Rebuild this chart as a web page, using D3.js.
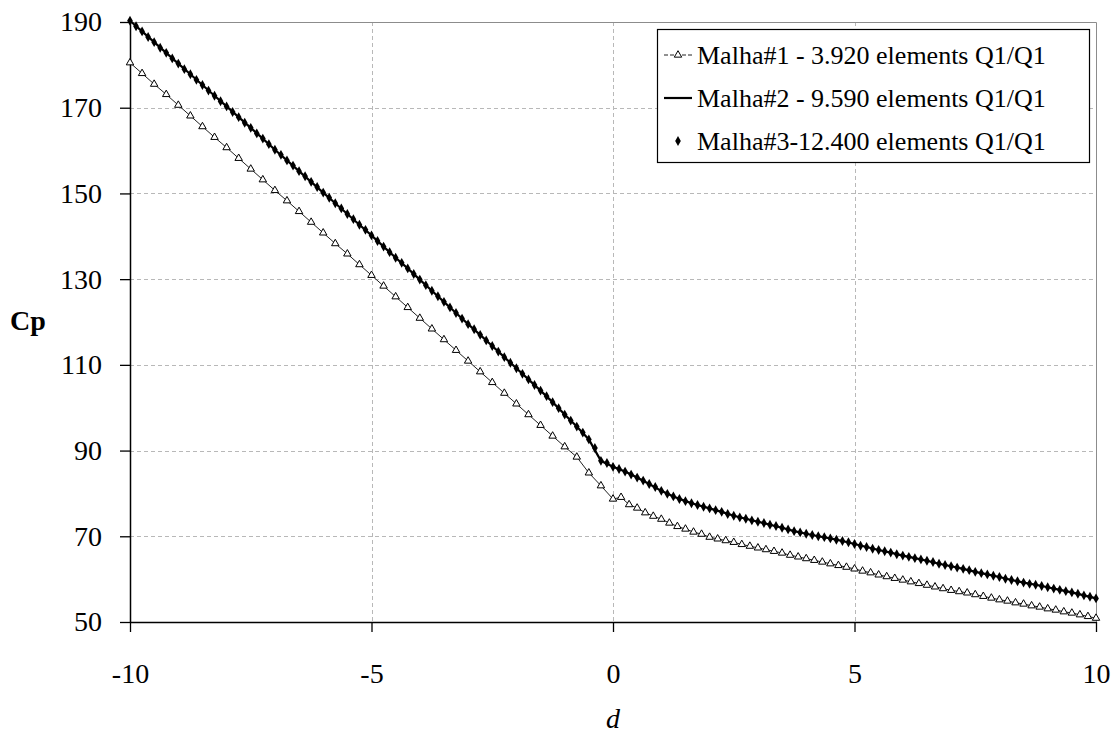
<!DOCTYPE html>
<html>
<head>
<meta charset="utf-8">
<script src="https://cdn.jsdelivr.net/npm/d3@7"></script>
<style>
  body { margin: 0; background: #fff; }
  svg { display: block; }
</style>
</head>
<body>
<svg id="chart" width="1113" height="740"></svg>
<script>
// Pressure coefficient Cp along d for three mesh refinements

const xTicks = [-10, -5, 0, 5, 10];
const yTicks = [50, 70, 90, 110, 130, 150, 170, 190];

const legendLabels = [
  "Malha#1 - 3.920 elements Q1/Q1",
  "Malha#2 - 9.590 elements Q1/Q1",
  "Malha#3-12.400 elements Q1/Q1"
];

// Malha#1: nodes every 0.25 for d in [-10, 0)
const m1LeftY = [
  180.5, 178.0, 175.5, 173.1, 170.6, 168.1, 165.6, 163.1, 160.7, 158.2,
  155.7, 153.2, 150.7, 148.3, 145.8, 143.3, 140.8, 138.3, 135.9, 133.4,
  130.9, 128.4, 125.9, 123.4, 120.9, 118.4, 115.9, 113.4, 110.9, 108.4,
  105.9, 103.4, 100.9, 98.4, 95.9, 93.4, 90.9, 88.5, 84.8, 81.8
];
// Malha#1: nodes every 1/6 for d in [0, 10]
const m1RightY = [
  78.7, 79.1, 77.4, 76.6, 75.5, 74.7, 74.0, 73.1, 72.3, 71.7,
  71.0, 70.5, 69.8, 69.4, 69.0, 68.6, 68.1, 67.7, 67.3, 66.9,
  66.5, 66.1, 65.6, 65.2, 64.8, 64.4, 64.0, 63.6, 63.2, 62.8,
  62.4, 61.9, 61.5, 61.0, 60.6, 60.2, 59.8, 59.4, 59.0, 58.6,
  58.2, 57.8, 57.4, 57.1, 56.8, 56.4, 56.0, 55.6, 55.2, 54.9,
  54.5, 54.2, 53.8, 53.5, 53.1, 52.8, 52.4, 52.1, 51.7, 51.3,
  50.9
];

// Malha#2: nodes every 0.25 for d in [-10, 10]
const m2Y = [
  190.3, 187.8, 185.3, 182.8, 180.3, 177.8, 175.3, 172.8, 170.3, 167.8,
  165.3, 162.8, 160.2, 157.7, 155.2, 152.7, 150.2, 147.7, 145.2, 142.7,
  140.2, 137.6, 135.0, 132.5, 129.9, 127.3, 124.7, 122.1, 119.5, 117.0,
  114.4, 111.8, 109.2, 106.6, 104.0, 101.3, 98.4, 95.6, 92.6, 87.6,
  86.2, 85.1, 83.7, 82.2, 80.6, 79.3, 78.2, 77.3, 76.5, 75.7,
  74.8, 74.1, 73.4, 72.7, 72.0, 71.2, 70.6, 70.0, 69.5, 68.9,
  68.2, 67.5, 66.8, 66.2, 65.5, 64.9, 64.3, 63.6, 63.0, 62.4,
  61.7, 61.1, 60.5, 59.8, 59.2, 58.7, 58.1, 57.5, 56.9, 56.2,
  55.5
];

// Malha#3: nodes every 0.125 for d in [-10, 0)
const m3LeftY = [
  190.3, 189.0, 187.8, 186.5, 185.3, 184.0, 182.8, 181.5, 180.3, 179.0,
  177.8, 176.5, 175.3, 174.0, 172.8, 171.5, 170.3, 169.0, 167.8, 166.5,
  165.3, 164.0, 162.8, 161.5, 160.2, 159.0, 157.7, 156.5, 155.2, 154.0,
  152.7, 151.5, 150.2, 149.0, 147.7, 146.5, 145.2, 144.0, 142.7, 141.5,
  140.2, 138.9, 137.6, 136.3, 135.0, 133.8, 132.5, 131.2, 129.9, 128.6,
  127.3, 126.0, 124.7, 123.4, 122.1, 120.8, 119.5, 118.3, 117.0, 115.7,
  114.4, 113.1, 111.8, 110.5, 109.2, 107.9, 106.6, 105.3, 104.0, 102.7,
  101.3, 99.9, 98.4, 97.0, 95.6, 94.2, 92.6, 90.6, 87.6, 87.1
];
// Malha#3: nodes every 0.125 for d in [0, 10]
const m3RightY = [
  86.2, 85.7, 85.1, 84.4, 83.7, 83.0, 82.2, 81.5, 80.6, 79.9,
  79.3, 78.7, 78.2, 77.7, 77.3, 76.9, 76.5, 76.1, 75.7, 75.2,
  74.8, 74.4, 74.1, 73.7, 73.4, 73.1, 72.7, 72.4, 72.0, 71.6,
  71.2, 70.9, 70.6, 70.3, 70.0, 69.8, 69.5, 69.2, 68.9, 68.6,
  68.2, 67.8, 67.5, 67.1, 66.8, 66.5, 66.2, 65.8, 65.5, 65.2,
  64.9, 64.6, 64.3, 64.0, 63.6, 63.3, 63.0, 62.7, 62.4, 62.1,
  61.7, 61.4, 61.1, 60.8, 60.5, 60.1, 59.8, 59.5, 59.2, 58.9,
  58.7, 58.4, 58.1, 57.8, 57.5, 57.2, 56.9, 56.6, 56.2, 55.9,
  55.5
];

// Pair each value with its node position
const malha1 = m1LeftY.map((v, i) => [-10 + 0.25 * i, v])
  .concat(m1RightY.map((v, k) => [k / 6, v]));
const malha2 = m2Y.map((v, i) => [-10 + 0.25 * i, v]);
const malha3 = m3LeftY.map((v, i) => [-10 + 0.125 * i, v])
  .concat(m3RightY.map((v, k) => [0.125 * k, v]));

const SERIF = "'Liberation Serif', 'Times New Roman', 'DejaVu Serif', serif";

const svg = d3.select("#chart");
const plot = { left: 130, right: 1096, top: 22, bottom: 622 };

const x = d3.scaleLinear().domain([-10, 10]).range([plot.left, plot.right]);
const y = d3.scaleLinear().domain([50, 190]).range([plot.bottom, plot.top]);

// Dashed grid
const grid = svg.append("g").attr("stroke", "#b8b8b8").attr("stroke-width", 1)
  .attr("stroke-dasharray", "4,3");
grid.selectAll("line.v").data(xTicks.slice(1, -1)).join("line")
  .attr("x1", d => Math.round(x(d)) + 0.5).attr("x2", d => Math.round(x(d)) + 0.5)
  .attr("y1", plot.top).attr("y2", plot.bottom);
grid.selectAll("line.h").data(yTicks.slice(1, -1)).join("line")
  .attr("x1", plot.left).attr("x2", plot.right)
  .attr("y1", d => Math.round(y(d)) + 0.5).attr("y2", d => Math.round(y(d)) + 0.5);

// Plot frame (top and right)
svg.append("path")
  .attr("d", `M${plot.left},${plot.top + 0.5}H${plot.right + 0.5}V${plot.bottom}`)
  .attr("fill", "none").attr("stroke", "#8c8c8c").attr("stroke-width", 1);

// Axes
const yAxis = svg.append("g").attr("transform", `translate(${plot.left},0)`)
  .call(d3.axisLeft(y).tickValues(yTicks).tickSize(10).tickSizeOuter(0)
    .tickPadding(18).tickFormat(d => String(d)));
const xAxis = svg.append("g").attr("transform", `translate(0,${plot.bottom})`)
  .call(d3.axisBottom(x).tickValues(xTicks).tickSize(10).tickSizeOuter(0)
    .tickPadding(31).tickFormat(d => String(d)));
[yAxis, xAxis].forEach(g => {
  g.attr("font-size", null).attr("font-family", null);
  g.selectAll("text")
    .style("font-family", SERIF).style("font-size", "28px").attr("fill", "#000");
  g.selectAll("line").attr("stroke", "#000").attr("stroke-width", 1.3);
  g.select(".domain").attr("stroke", "#000").attr("stroke-width", 1.5);
});

// Axis titles
svg.append("text").attr("x", 10).attr("y", 330)
  .style("font-family", SERIF).style("font-size", "28px").style("font-weight", "bold")
  .text("Cp");
svg.append("text").attr("x", x(0)).attr("y", 728).attr("text-anchor", "middle")
  .style("font-family", SERIF).style("font-size", "28px").style("font-style", "italic")
  .text("d");

const line = d3.line().x(d => x(d[0])).y(d => y(d[1]));
const triangle = d3.symbol(d3.symbolTriangle, 24);
const diamond = d3.symbol(d3.symbolDiamond, 28);

// Malha#1: thin line with open triangles
svg.append("path").datum(malha1).attr("d", line)
  .attr("fill", "none").attr("stroke", "#222").attr("stroke-width", 1);
svg.append("g").selectAll("path").data(malha1).join("path")
  .attr("d", triangle)
  .attr("transform", d => `translate(${x(d[0])},${y(d[1])})`)
  .attr("fill", "#fff").attr("stroke", "#000").attr("stroke-width", 1);

// Malha#2: solid thick line
svg.append("path").datum(malha2).attr("d", line)
  .attr("fill", "none").attr("stroke", "#000").attr("stroke-width", 2.2);

// Malha#3: filled diamonds
svg.append("g").selectAll("path").data(malha3).join("path")
  .attr("d", diamond)
  .attr("transform", d => `translate(${x(d[0])},${y(d[1])})`)
  .attr("fill", "#000");

// Legend
const lg = { x: 657, y: 29, w: 432, h: 133, rowY: [64, 107, 150], textX: 697 };
svg.append("rect").attr("x", lg.x + 0.5).attr("y", lg.y + 0.5)
  .attr("width", lg.w).attr("height", lg.h)
  .attr("fill", "#fff").attr("stroke", "#000").attr("stroke-width", 1.2);
legendLabels.forEach((label, i) => {
  const by = lg.rowY[i];
  const cy = by - 9;
  const sx0 = lg.x + 7, sx1 = lg.textX - 5, sc = (sx0 + sx1) / 2;
  if (i === 0) {
    svg.append("line").attr("x1", sx0).attr("x2", sx1).attr("y1", cy).attr("y2", cy)
      .attr("stroke", "#222").attr("stroke-width", 1).attr("stroke-dasharray", "4,2");
    svg.append("path").attr("d", triangle).attr("transform", `translate(${sc},${cy})`)
      .attr("fill", "#fff").attr("stroke", "#000");
  } else if (i === 1) {
    svg.append("line").attr("x1", sx0).attr("x2", sx1).attr("y1", cy).attr("y2", cy)
      .attr("stroke", "#000").attr("stroke-width", 2.2);
  } else {
    svg.append("path").attr("d", diamond).attr("transform", `translate(${sc},${cy})`)
      .attr("fill", "#000");
  }
  svg.append("text").attr("x", lg.textX).attr("y", by)
    .style("font-family", SERIF).style("font-size", "26px").text(label);
});
</script>
</body>
</html>
